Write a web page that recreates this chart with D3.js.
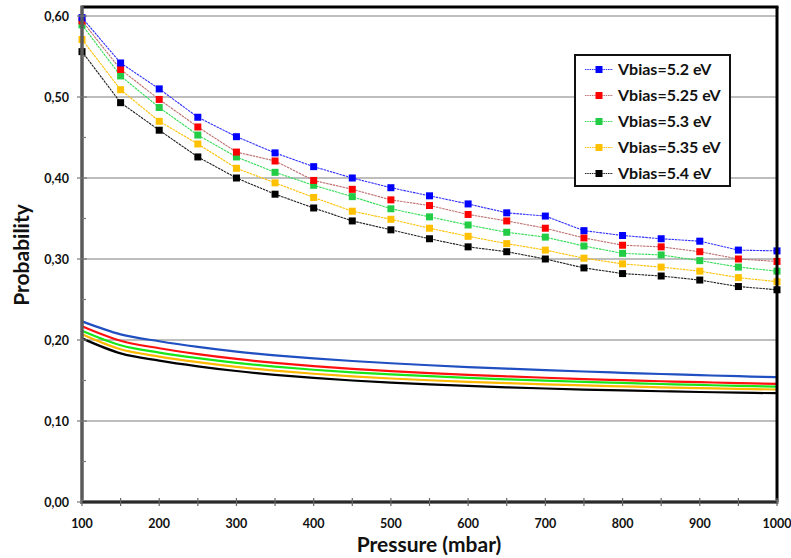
<!DOCTYPE html>
<html>
<head>
<meta charset="utf-8">
<script src="https://cdn.jsdelivr.net/npm/d3@7/dist/d3.min.js"></script>
<style>
  html, body { margin: 0; padding: 0; background: #fff; }
  svg { display: block; font-family: "Lato", "DejaVu Sans", sans-serif; font-weight: 700; }
</style>
</head>
<body>
<svg id="chart" width="791" height="558"></svg>
<script>
// Pressure values (mbar) shared by every series
const pressures = [100,150,200,250,300,350,400,450,500,550,600,650,700,750,800,850,900,950,1000];

// Series labels
const seriesNames = ["Vbias=5.2 eV","Vbias=5.25 eV","Vbias=5.3 eV","Vbias=5.35 eV","Vbias=5.4 eV"];

// Measured probabilities (marker series)
const measured52  = [0.598,0.542,0.510,0.475,0.451,0.431,0.414,0.400,0.388,0.378,0.368,0.357,0.353,0.335,0.329,0.325,0.322,0.311,0.310];
const measured525 = [0.594,0.534,0.497,0.463,0.432,0.421,0.397,0.386,0.373,0.366,0.355,0.347,0.338,0.326,0.317,0.315,0.309,0.300,0.297];
const measured53  = [0.589,0.526,0.487,0.453,0.426,0.407,0.391,0.377,0.362,0.352,0.342,0.333,0.327,0.316,0.307,0.305,0.298,0.290,0.285];
const measured535 = [0.571,0.509,0.470,0.442,0.412,0.394,0.376,0.359,0.349,0.338,0.328,0.319,0.311,0.301,0.294,0.290,0.285,0.277,0.272];
const measured54  = [0.556,0.493,0.459,0.426,0.400,0.380,0.363,0.347,0.336,0.325,0.315,0.309,0.300,0.289,0.282,0.279,0.274,0.266,0.262];

// Model probabilities (smooth curves)
const model52  = [0.2230,0.2070,0.1985,0.1915,0.1857,0.1811,0.1773,0.1741,0.1713,0.1688,0.1666,0.1646,0.1628,0.1611,0.1595,0.1580,0.1566,0.1553,0.1541];
const model525 = [0.2170,0.1990,0.1898,0.1826,0.1766,0.1717,0.1677,0.1643,0.1615,0.1591,0.1570,0.1551,0.1534,0.1518,0.1504,0.1491,0.1479,0.1468,0.1458];
const model53  = [0.2115,0.1935,0.1845,0.1776,0.1718,0.1671,0.1633,0.1601,0.1575,0.1553,0.1533,0.1515,0.1499,0.1484,0.1470,0.1457,0.1445,0.1434,0.1424];
const model535 = [0.2070,0.1885,0.1795,0.1726,0.1668,0.1621,0.1583,0.1551,0.1525,0.1503,0.1484,0.1467,0.1452,0.1439,0.1427,0.1416,0.1406,0.1397,0.1389];
const model54  = [0.2020,0.1835,0.1745,0.1675,0.1617,0.1570,0.1532,0.1500,0.1474,0.1452,0.1433,0.1416,0.1401,0.1388,0.1377,0.1367,0.1358,0.1350,0.1343];

// Axis ticks
const yTicks = [0,0.1,0.2,0.3,0.4,0.5,0.6];
const yMinorTicks = [0.05,0.15,0.25,0.35,0.45,0.55];
const xTicks = [100,200,300,400,500,600,700,800,900,1000];
const xMinorTicks = [150,250,350,450,550,650,750,850,950];

const measuredSets = [measured52, measured525, measured53, measured535, measured54];
const modelSets = [model52, model525, model53, model535, model54];

const markerColors = ["#0000ff","#ff0000","#22cc44","#ffc000","#000000"];
const dotLineColors = ["#3030ff","#c07070","#33dd55","#ffc000","#202020"];
const curveColors = ["#1f4fc0","#ff1010","#19e619","#ffb800","#000000"];

const svg = d3.select("#chart");

const x = d3.scaleLinear().domain([100, 1000]).range([82, 777]);
const y = d3.scaleLinear().domain([0, 0.6]).range([502, 16]);
const yFrameTop = y(0.611);

const fmt = d => d3.format(".2f")(d).replace(".", ",");

// Gridlines
svg.append("g").selectAll("line").data(yTicks.filter(d => d > 0)).join("line")
  .attr("x1", x(100)).attr("x2", x(1000))
  .attr("y1", d => y(d)).attr("y2", d => y(d))
  .attr("stroke", "#a8a8a8").attr("stroke-width", 1.5);

// Model curves
const curveLine = d3.line().curve(d3.curveMonotoneX);
modelSets.forEach((vals, i) => {
  svg.append("path")
    .attr("d", curveLine(pressures.map((p, j) => [x(p), y(vals[j])])))
    .attr("fill", "none").attr("stroke", curveColors[i]).attr("stroke-width", 2.2);
});

// Measured series, drawn back to front
const dotLine = d3.line();
for (let i = measuredSets.length - 1; i >= 0; i--) {
  const vals = measuredSets[i];
  const g = svg.append("g");
  g.append("path")
    .attr("d", dotLine(pressures.map((p, j) => [x(p), y(vals[j])])))
    .attr("fill", "none").attr("stroke", dotLineColors[i])
    .attr("stroke-width", 1.1).attr("stroke-dasharray", "2.5,0.8");
  g.selectAll("rect").data(pressures).join("rect")
    .attr("x", (p) => x(p) - 3.5)
    .attr("y", (p, j) => y(vals[j]) - 3.5)
    .attr("width", 7).attr("height", 7)
    .attr("fill", markerColors[i]);
}

// Frame: top and right edges
svg.append("line").attr("x1", x(100)).attr("x2", x(1000) + 1.5)
  .attr("y1", yFrameTop).attr("y2", yFrameTop)
  .attr("stroke", "#000").attr("stroke-width", 3);
svg.append("line").attr("x1", x(1000)).attr("x2", x(1000))
  .attr("y1", yFrameTop).attr("y2", y(0))
  .attr("stroke", "#000").attr("stroke-width", 3);

// Y axis
const yAxis = svg.append("g");
yAxis.append("line").attr("x1", x(100)).attr("x2", x(100))
  .attr("y1", yFrameTop - 1.5).attr("y2", y(0) + 2)
  .attr("stroke", "#5a5a5a").attr("stroke-width", 3.5);
yAxis.selectAll(".maj").data(yTicks).join("line").attr("class", "maj")
  .attr("x1", x(100) - 5).attr("x2", x(100) + 5)
  .attr("y1", d => y(d)).attr("y2", d => y(d))
  .attr("stroke", "#777").attr("stroke-width", 1.2);
yAxis.selectAll(".min").data(yMinorTicks).join("line").attr("class", "min")
  .attr("x1", x(100)).attr("x2", x(100) + 4)
  .attr("y1", d => y(d)).attr("y2", d => y(d))
  .attr("stroke", "#777").attr("stroke-width", 1.2);
yAxis.selectAll("text").data(yTicks).join("text")
  .attr("x", 69).attr("y", d => y(d))
  .attr("dy", "0.36em").attr("text-anchor", "end")
  .attr("font-size", 12.5).attr("fill", "#111")
  .text(fmt);

// X axis
const xAxis = svg.append("g");
xAxis.append("line").attr("x1", x(100) - 1).attr("x2", x(1000) + 1.5)
  .attr("y1", y(0)).attr("y2", y(0))
  .attr("stroke", "#777").attr("stroke-width", 4);
xAxis.append("line").attr("x1", x(100)).attr("x2", x(1000))
  .attr("y1", y(0)).attr("y2", y(0))
  .attr("stroke", "#111").attr("stroke-width", 1.6);
xAxis.selectAll(".tk").data(xTicks.concat(xMinorTicks)).join("line").attr("class", "tk")
  .attr("x1", d => x(d)).attr("x2", d => x(d))
  .attr("y1", y(0) - 4).attr("y2", y(0) + 4)
  .attr("stroke", "#666").attr("stroke-width", 1.2);
xAxis.selectAll("text").data(xTicks).join("text")
  .attr("x", d => x(d)).attr("y", 528)
  .attr("text-anchor", "middle")
  .attr("font-size", 12.5).attr("fill", "#111")
  .text(d => d);

// Axis titles
svg.append("text").attr("x", 429).attr("y", 552)
  .attr("text-anchor", "middle").attr("font-size", 21).attr("fill", "#111")
  .text("Pressure (mbar)");
svg.append("text")
  .attr("transform", "translate(29,255) rotate(-90)")
  .attr("text-anchor", "middle").attr("font-size", 21).attr("fill", "#111")
  .text("Probability");

// Legend
const legend = svg.append("g");
legend.append("rect").attr("x", 575).attr("y", 55).attr("width", 155).attr("height", 131)
  .attr("fill", "#fff").attr("stroke", "#111").attr("stroke-width", 2);
seriesNames.forEach((name, i) => {
  const ly = 69.5 + i * 26;
  legend.append("line").attr("x1", 585).attr("x2", 613).attr("y1", ly).attr("y2", ly)
    .attr("stroke", dotLineColors[i]).attr("stroke-width", 1.1).attr("stroke-dasharray", "1.5,0.8");
  legend.append("rect").attr("x", 599 - 3.5).attr("y", ly - 3.5).attr("width", 7).attr("height", 7)
    .attr("fill", markerColors[i]);
  legend.append("text").attr("x", 618).attr("y", ly).attr("dy", "0.36em")
    .attr("font-size", 16).attr("fill", "#111").text(name);
});
</script>
</body>
</html>
